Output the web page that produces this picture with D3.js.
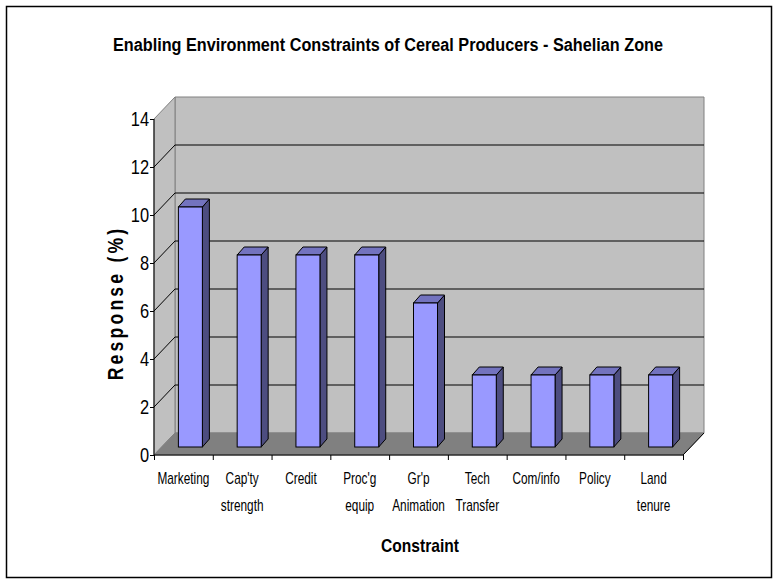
<!DOCTYPE html>
<html>
<head>
<meta charset="utf-8">
<script src="https://cdn.jsdelivr.net/npm/d3@7"></script>
<style>
  body { margin: 0; background: #fff; }
  svg { display: block; }
</style>
</head>
<body>
<div id="chart"></div>
<script>
// data
var categories = ["Marketing", "Cap'ty strength", "Credit", "Proc'g equip", "Gr'p Animation",
                  "Tech Transfer", "Com/info", "Policy", "Land tenure"];
var labelLines = [["Marketing"], ["Cap'ty", "strength"], ["Credit"], ["Proc'g", "equip"],
                  ["Gr'p", "Animation"], ["Tech", "Transfer"], ["Com/info"], ["Policy"], ["Land", "tenure"]];
var responses = [10, 8, 8, 8, 6, 3, 3, 3, 3];
var yTicks = [0, 2, 4, 6, 8, 10, 12, 14];

var W = 778, H = 583;
var font = "'Liberation Sans', Arial, sans-serif";

// plot box (front plane) and the 3d depth shift
var pLeft = 154, pRight = 683, pBottom = 455, pTop = 119;
var dx = 21, dy = -22;
var barW = 24, barDx = 7, barDy = -8;

var svg = d3.select("#chart").append("svg")
  .attr("width", W)
  .attr("height", H);

// squeeze a text horizontally (no narrow font available)
function condense(sel, f) {
  sel.each(function() {
    var len = this.getComputedTextLength();
    d3.select(this).attr("textLength", len * f).attr("lengthAdjust", "spacingAndGlyphs");
  });
}

svg.append("rect")
  .attr("x", 6.5).attr("y", 6.5)
  .attr("width", 765).attr("height", 571)
  .style("fill", "#fff")
  .style("stroke", "#000")
  .style("stroke-width", 1.5);

svg.append("text")
  .attr("x", 388).attr("y", 51)
  .attr("text-anchor", "middle")
  .style("font-family", font)
  .style("font-weight", "bold")
  .style("font-size", "18px")
  .text("Enabling Environment Constraints of Cereal Producers - Sahelian Zone")
  .attr("textLength", 550)
  .attr("lengthAdjust", "spacingAndGlyphs");

var y = d3.scaleLinear().domain([0, 14]).range([pBottom, pTop]);
var x = d3.scaleBand().domain(categories).range([pLeft, pRight]);
var xi = d3.scaleLinear().domain([0, categories.length]).range([pLeft, pRight]);

function pts(a) { return a.map(function(p) { return p.join(","); }).join(" "); }

// back wall
svg.append("polygon")
  .attr("points", pts([[pLeft + dx, pTop + dy], [pRight + dx, pTop + dy], [pRight + dx, pBottom + dy], [pLeft + dx, pBottom + dy]]))
  .style("fill", "#c0c0c0")
  .style("stroke", "#808080");

// side wall
svg.append("polygon")
  .attr("points", pts([[pLeft, pTop], [pLeft + dx, pTop + dy], [pLeft + dx, pBottom + dy], [pLeft, pBottom]]))
  .style("fill", "#c0c0c0")
  .style("stroke", "#808080");

// floor
svg.append("polygon")
  .attr("points", pts([[pLeft, pBottom], [pLeft + dx, pBottom + dy], [pRight + dx, pBottom + dy], [pRight, pBottom]]))
  .style("fill", "#808080")
  .style("stroke", "#808080");
svg.append("line")
  .attr("x1", pRight).attr("y1", pBottom)
  .attr("x2", pRight + dx).attr("y2", pBottom + dy)
  .style("stroke", "#000");

// gridlines on back wall + diagonals on side wall
var grid = yTicks.filter(function(v) { return v > 0 && v < 14; });
svg.selectAll(".grid").data(grid).enter().append("line")
  .attr("class", "grid")
  .attr("x1", pLeft + dx).attr("x2", pRight + dx)
  .attr("y1", function(d) { return y(d) + dy; })
  .attr("y2", function(d) { return y(d) + dy; })
  .style("stroke", "#000");
svg.selectAll(".diag").data(grid).enter().append("line")
  .attr("class", "diag")
  .attr("x1", pLeft).attr("x2", pLeft + dx)
  .attr("y1", function(d) { return y(d); })
  .attr("y2", function(d) { return y(d) + dy; })
  .style("stroke", "#000");

// bars
var bars = svg.selectAll(".bar").data(responses).enter().append("g").attr("class", "bar");
function bx(d, i) { return x(categories[i]) + (x.bandwidth() - barW) / 2 + barDx; }
bars.append("polygon")
  .attr("points", function(d, i) {
    var x0 = bx(d, i) + barW, yt = y(d) + barDy, yb = pBottom + barDy;
    return pts([[x0, yt], [x0 + barDx, yt + barDy], [x0 + barDx, yb + barDy], [x0, yb]]);
  })
  .style("fill", "#4d4d80").style("stroke", "#000").style("stroke-linejoin", "round");
bars.append("polygon")
  .attr("points", function(d, i) {
    var x0 = bx(d, i), yt = y(d) + barDy;
    return pts([[x0, yt], [x0 + barDx, yt + barDy], [x0 + barW + barDx, yt + barDy], [x0 + barW, yt]]);
  })
  .style("fill", "#7373bf").style("stroke", "#000").style("stroke-linejoin", "round");
bars.append("rect")
  .attr("x", bx)
  .attr("y", function(d) { return y(d) + barDy; })
  .attr("width", barW)
  .attr("height", function(d) { return pBottom - y(d); })
  .style("fill", "#9999ff").style("stroke", "#000");

// y axis
var yAxis = svg.append("g")
  .attr("transform", "translate(" + pLeft + ",0)")
  .call(d3.axisLeft(y).tickValues(yTicks).tickSize(4).tickPadding(1).tickFormat(d3.format("d")));
yAxis.select(".domain").style("stroke", "#000").attr("d", "M0," + pTop + "V" + pBottom);
yAxis.selectAll(".tick line").style("stroke", "#000");
yAxis.selectAll(".tick text")
  .style("font-family", font)
  .style("font-size", "20px")
  .style("fill", "#000")
  .call(condense, 0.82);

// x axis
var xAxis = svg.append("g")
  .attr("transform", "translate(0," + pBottom + ")")
  .call(d3.axisBottom(xi).tickValues(d3.range(categories.length + 1)).tickSize(5).tickFormat(""));
xAxis.select(".domain").style("stroke", "#000").attr("d", "M" + pLeft + ",0H" + pRight);
xAxis.selectAll(".tick line").style("stroke", "#000");

// category labels, squeezed sideways like the narrow font of the original
var lab = svg.selectAll(".xlab").data(labelLines).enter().append("text")
  .attr("class", "xlab")
  .attr("text-anchor", "middle")
  .style("font-family", font)
  .style("font-size", "16px")
  .attr("transform", function(d, i) {
    return "translate(" + (x(categories[i]) + x.bandwidth() / 2) + "," + (pBottom + 29) + ") scale(0.74,1)";
  });
lab.selectAll("tspan").data(function(d) { return d; }).enter().append("tspan")
  .attr("x", 0)
  .attr("y", function(d, i) { return i * 27; })
  .text(function(d) { return d; });

// axis titles
svg.append("text")
  .attr("x", 420).attr("y", 552)
  .attr("text-anchor", "middle")
  .style("font-family", font)
  .style("font-weight", "bold")
  .style("font-size", "19px")
  .text("Constraint")
  .call(condense, 0.82);

svg.append("text")
  .attr("transform", "translate(123,303) rotate(-90) scale(0.8,1)")
  .attr("text-anchor", "middle")
  .style("font-family", font)
  .style("font-weight", "bold")
  .style("font-size", "22px")
  .style("letter-spacing", "4px")
  .text("Response (%)");
</script>
</body>
</html>
